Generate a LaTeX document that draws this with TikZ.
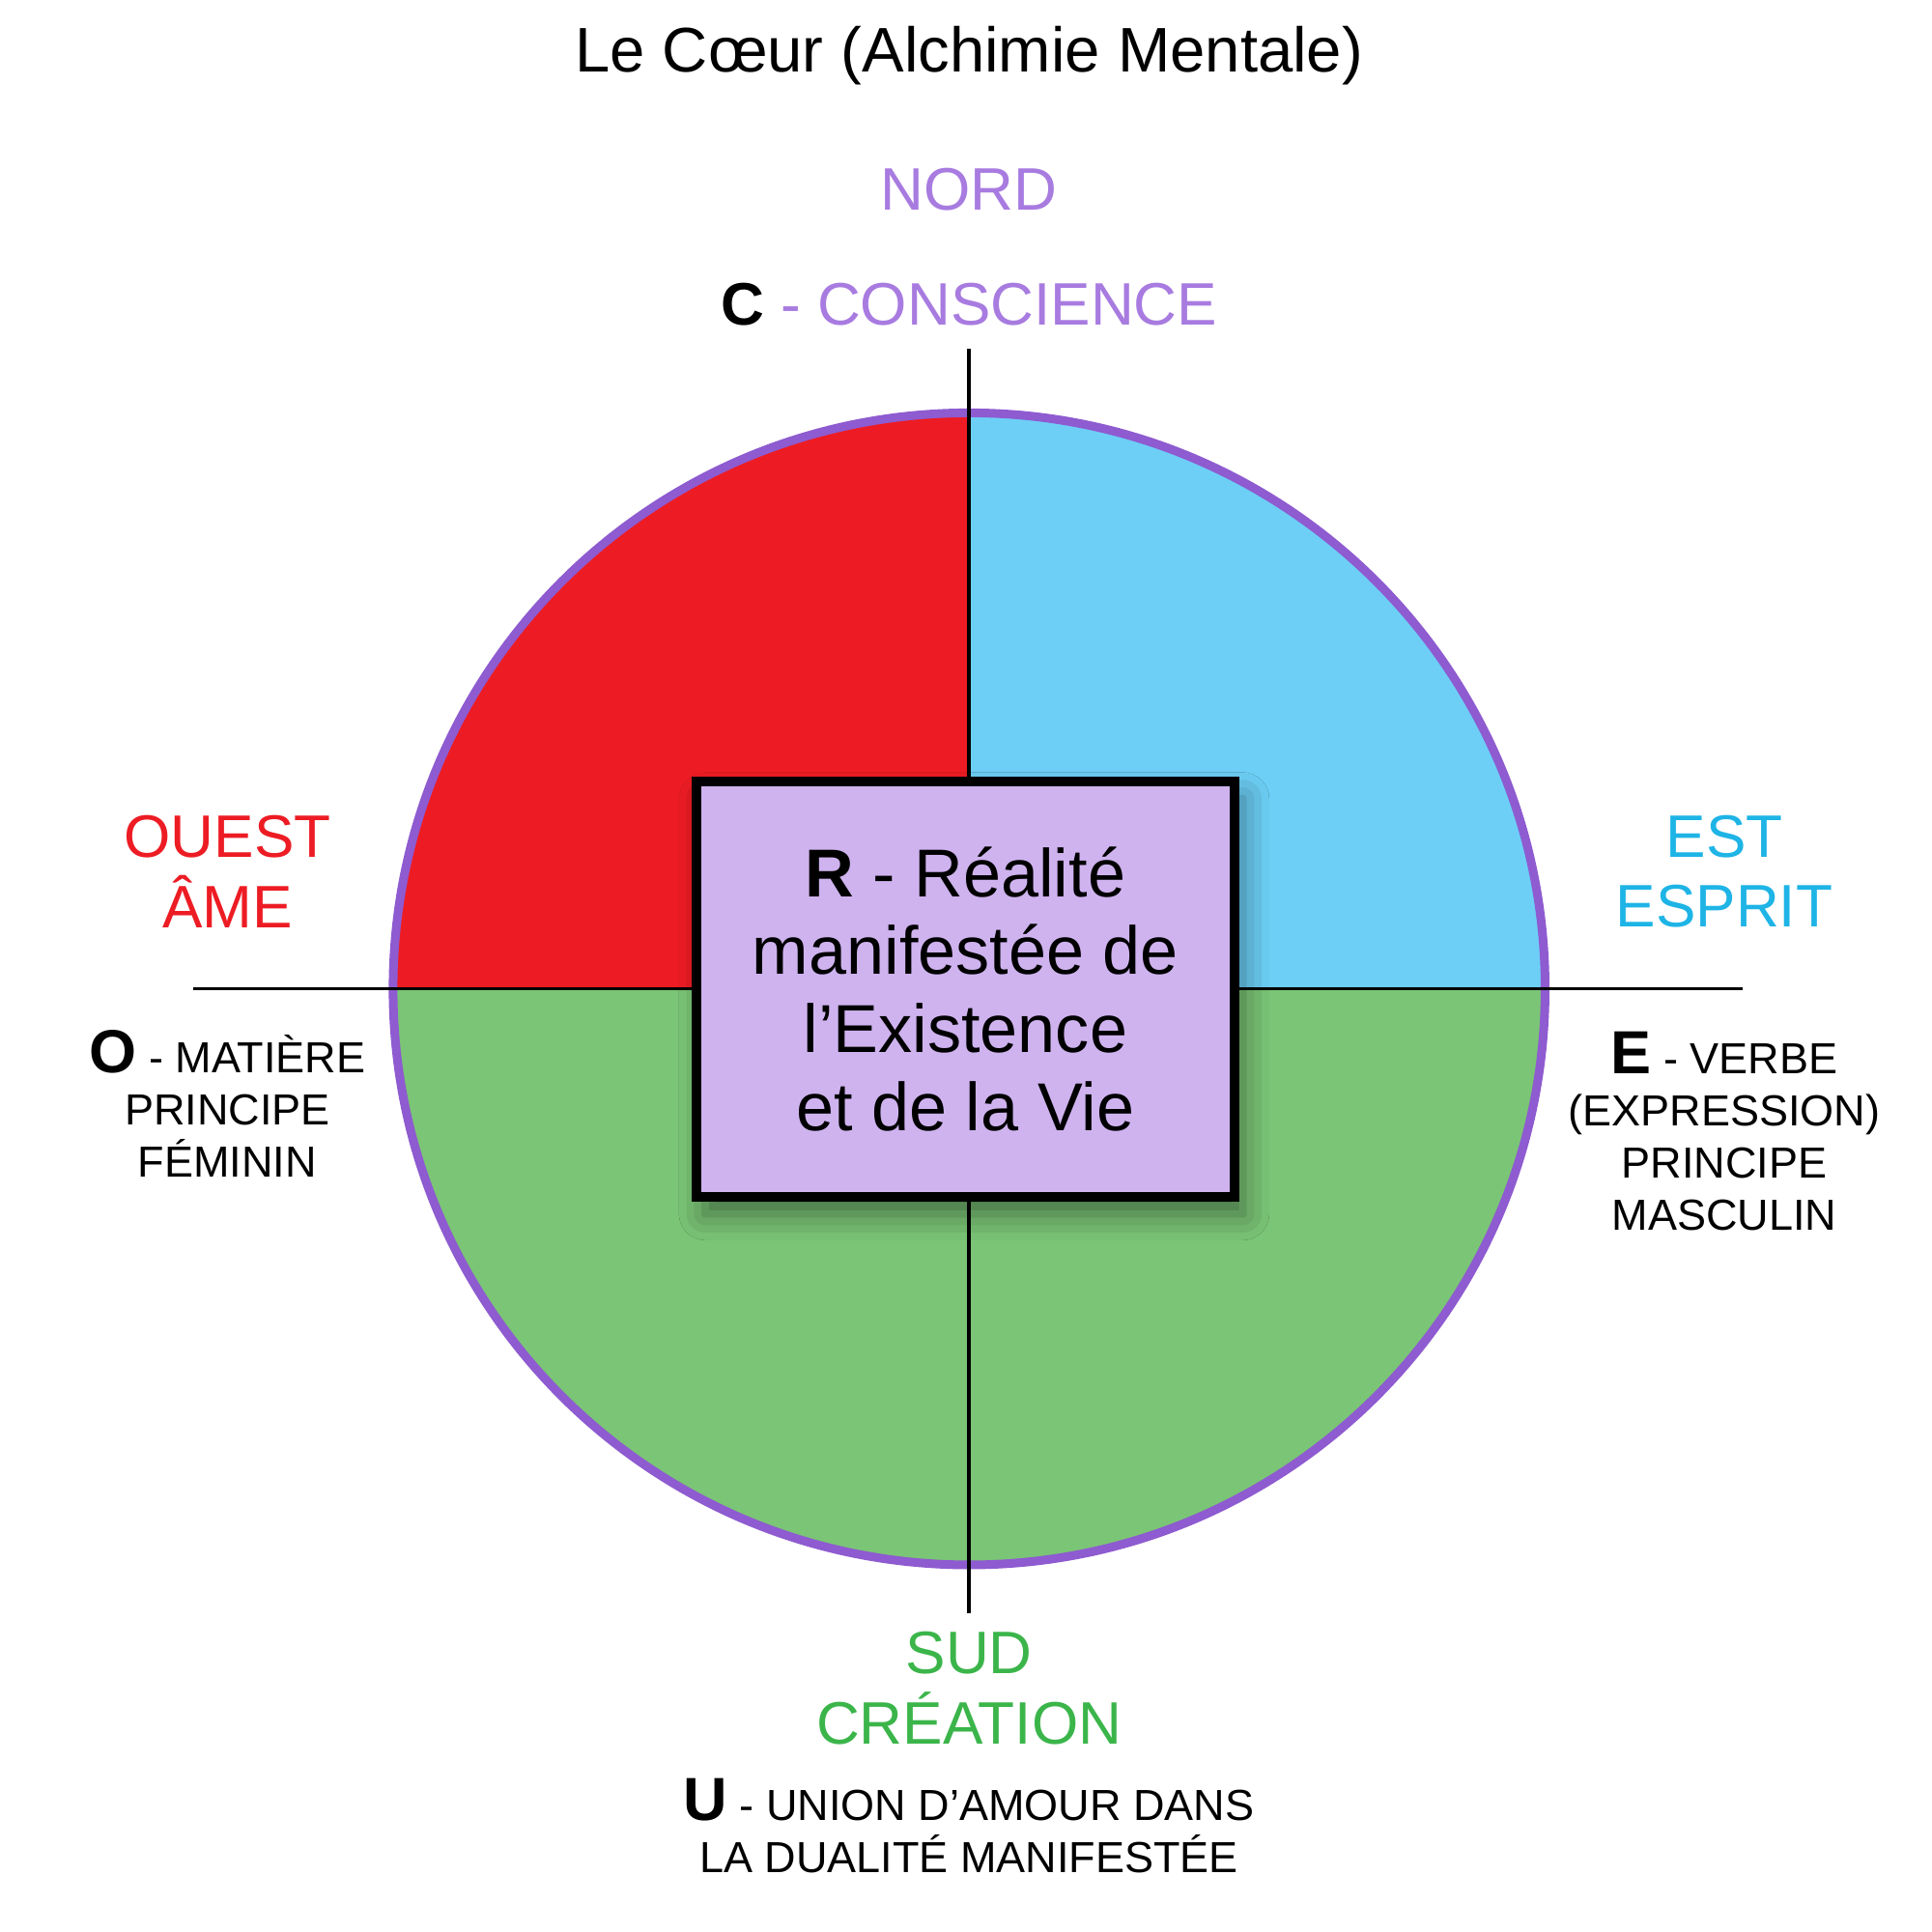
\documentclass[tikz,border=0pt]{standalone}
\usepackage{fontspec}
\setmainfont{Liberation Sans}
\usetikzlibrary{shadows,shadows.blur}
\definecolor{cred}{HTML}{ED1C24}
\definecolor{cblue}{HTML}{6DCFF6}
\definecolor{cgreen}{HTML}{7BC576}
\definecolor{cring}{HTML}{8E5BD0}
\definecolor{cbox}{HTML}{CFB3EF}
\definecolor{tpurple}{HTML}{A87BE0}
\definecolor{tred}{HTML}{ED1C24}
\definecolor{tblue}{HTML}{1EB4E6}
\definecolor{tgreen}{HTML}{3BB54A}
\tikzset{
 big/.style={font=\fontsize{13.8}{16.2}\selectfont, align=center, inner sep=0},
 small/.style={font=\fontsize{10}{12}\selectfont, align=center, inner sep=0},
 axis/.style={line width=0.8pt, black},
}
\begin{document}
\begin{tikzpicture}[x=0.01cm,y=-0.01cm]
\useasboundingbox[fill=white] (0,0) rectangle (1563,1563);
\coordinate (c) at (784,800);
\fill[cred] (c) -- (318,800) arc[start angle=180,end angle=270,radius=466] -- cycle;
\fill[cblue] (c) -- (784,334) arc[start angle=270,end angle=360,radius=466] -- cycle;
\fill[cgreen] (c) -- (1250,800) arc[start angle=0,end angle=180,radius=466] -- cycle;
\draw[cring, line width=2pt] (c) circle[radius=466];
\coordinate (n) at (784,282); \coordinate (s) at (784,1305);
\coordinate (w) at (156,800); \coordinate (e) at (1410,800);
\draw[axis] (n) -- (s);
\draw[axis] (w) -- (e);
\node[draw=black, line width=2.2pt, fill=cbox, minimum width=4.35cm, minimum height=3.36cm,
 blur shadow={shadow xshift=2pt, shadow yshift=-4pt, shadow blur radius=6pt, shadow opacity=45},
 font=\fontsize{15.6}{17.9}\selectfont, align=center] (box) at (781,800)
 {\textbf{R} - Réalité\\manifestée de\\l’Existence\\et de la Vie};
\node[big, font=\fontsize{14.5}{17}\selectfont] (title) at (784,45) {Le Cœur (Alchimie Mentale)};
\node[big, text=tpurple] (nord) at (784,153) {NORD};
\node[big, text=tpurple] (cons) at (784,246) {\textcolor{black}{\textbf{C}} - CONSCIENCE};
\node[big, text=tred] (ouest) at (184,705) {OUEST\\ÂME};
\node[big, text=tblue] (est) at (1395,705) {EST\\ESPRIT};
\node[big, text=tgreen] (sud) at (784,1366) {SUD\\CRÉATION};
\node[small] (o) at (184,893) {{\fontsize{14}{12}\selectfont\textbf{O}} - MATIÈRE\\PRINCIPE\\FÉMININ};
\node[small] (ee) at (1395,915) {{\fontsize{14}{12}\selectfont\textbf{E}} - VERBE\\(EXPRESSION)\\PRINCIPE\\MASCULIN};
\node[small] (u) at (784,1477) {{\fontsize{14}{12}\selectfont\textbf{U}} - UNION D’AMOUR DANS\\LA DUALITÉ MANIFESTÉE};
\end{tikzpicture}
\end{document}
